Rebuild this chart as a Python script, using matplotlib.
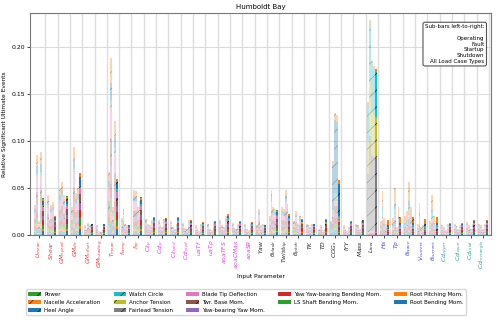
import numpy as np
import matplotlib
matplotlib.use("Agg")
import matplotlib.pyplot as plt

# ---------------- DATA ----------------
params = [r"$U_{mean}$", r"$Shear$", r"$GM_{speed}$", r"$GM_{dir}$", r"$GM_{offset}$",
          r"$GM_{heading}$", r"$T_{mean}$", r"$f_{ramp}$", r"$f_{tip}$",
          r"$Cl_{fp}$", r"$Cd_{fp}$", r"$Cl_{fixed}$", r"$Cd_{fixed}$", r"$uaTf$", r"$uaTp$",
          r"$aoaTFS$", r"$aoaCMax$", r"$aoaSR$",
          r"$Yaw$", r"$\theta_{blade}$", r"$Twist_{tip}$", r"$\theta_{pitch}$", r"$TK$", r"$TD$",
          r"$COG_{x}$", r"$IYY$", r"$Mass$", r"$L_{tow}$",
          r"$Hs$", r"$Tp$", r"$\theta_{wave}$", r"$V_{current}$", r"$\theta_{current}$",
          r"$Cd_{upper}$", r"$Cd_{lower}$", r"$Cd_{axial}$", r"$Cd_{rectangle}$"]
group_sizes = [9, 9, 10, 5, 4]
group_colors = ["#f03c3c", "#e23fe2", "#222222", "#4040f0", "#2fa3a3"]

# total height of each sub-bar
operating = [0.032, 0.042, 0.049, 0.030, 0.010, 0.011, 0.067, 0.018, 0.048,
             0.017, 0.016, 0.015, 0.013, 0.010, 0.012, 0.016, 0.013, 0.012,
             0.010, 0.020, 0.030, 0.015, 0.012, 0.006, 0.015, 0.010, 0.012, 0.141,
             0.015, 0.018, 0.020, 0.012, 0.015, 0.010, 0.012, 0.014, 0.012]
fault = [0.085, 0.017, 0.056, 0.093, 0.005, 0.004, 0.188, 0.028, 0.047,
         0.012, 0.010, 0.008, 0.007, 0.006, 0.006, 0.010, 0.007, 0.006,
         0.028, 0.048, 0.028, 0.025, 0.010, 0.010, 0.079, 0.006, 0.010, 0.229,
         0.047, 0.050, 0.025, 0.034, 0.042, 0.008, 0.009, 0.010, 0.010]
startup = [0.015, 0.032, 0.042, 0.045, 0.013, 0.003, 0.030, 0.012, 0.030,
           0.010, 0.008, 0.006, 0.006, 0.004, 0.005, 0.008, 0.006, 0.005,
           0.010, 0.030, 0.048, 0.012, 0.008, 0.005, 0.130, 0.004, 0.006, 0.185,
           0.018, 0.008, 0.056, 0.008, 0.020, 0.005, 0.006, 0.006, 0.006]
shutdown = [0.088, 0.035, 0.030, 0.050, 0.011, 0.005, 0.121, 0.010, 0.036,
            0.016, 0.017, 0.012, 0.016, 0.012, 0.014, 0.020, 0.012, 0.013,
            0.012, 0.028, 0.033, 0.020, 0.012, 0.006, 0.128, 0.008, 0.015, 0.180,
            0.012, 0.030, 0.030, 0.010, 0.010, 0.012, 0.010, 0.012, 0.012]
all_types = [0.039, 0.020, 0.041, 0.066, 0.012, 0.012, 0.060, 0.010, 0.040,
             0.019, 0.018, 0.019, 0.016, 0.014, 0.015, 0.022, 0.015, 0.014,
             0.011, 0.026, 0.022, 0.017, 0.012, 0.017, 0.058, 0.015, 0.016, 0.177,
             0.016, 0.019, 0.019, 0.017, 0.019, 0.013, 0.013, 0.016, 0.016]
load_cases = ["Operating", "Fault", "Startup", "Shutdown", "All Load Case Types"]

# output channels, bottom of the stack first
channels = ["Root Bending Mom.", "Root Pitching Mom.", "LS Shaft Bending Mom.",
            "Yaw Yaw-bearing Bending Mom.", "Yaw-bearing Yaw Mom.", "Twr. Base Mom.",
            "Blade Tip Deflection", "Fairlead Tension", "Anchor Tension", "Watch Circle",
            "Heel Angle", "Nacelle Acceleration", "Power"]
channel_colors = ["tab:blue", "tab:orange", "tab:green", "tab:red", "tab:purple", "tab:brown",
                  "tab:pink", "tab:gray", "tab:olive", "tab:cyan", "tab:blue", "tab:orange",
                  "tab:green"]
channel_hatch = ["", "", "", "", "", "//", "", "//", "//", "//", "//", "//", "//"]

# estimated share of each channel inside a sub-bar
share_faded = [0.08, 0.05, 0.08, 0.08, 0.10, 0.15, 0.18, 0.01, 0.01, 0.02, 0.10, 0.14, 0.00]
share_full = [0.10, 0.05, 0.12, 0.13, 0.12, 0.14, 0.10, 0.01, 0.01, 0.03, 0.12, 0.06, 0.01]
share_mooring = [0.0, 0.0, 0.0, 0.0, 0.0, 0.01, 0.01, 0.44, 0.25, 0.27, 0.0, 0.02, 0.0]
share_heel = [0.04, 0.01, 0.04, 0.05, 0.04, 0.06, 0.04, 0.02, 0.01, 0.03, 0.60, 0.06, 0.0]
share_wave = [0.05, 0.02, 0.05, 0.05, 0.06, 0.08, 0.08, 0.02, 0.02, 0.12, 0.10, 0.35, 0.0]
special_shares = {24: share_heel, 27: share_mooring, 28: share_wave, 29: share_wave,
                  30: share_wave, 31: share_wave, 32: share_wave}

# ---------------- PLOT ----------------
plt.rcParams["hatch.linewidth"] = 0.4
plt.rcParams["font.size"] = 4.2

fig = plt.figure(figsize=(5, 3.2), dpi=100)
ax = fig.add_axes([0.06, 0.266, 0.922, 0.693])

x = np.arange(len(params))
width = 0.15
totals = [operating, fault, startup, shutdown, all_types]

handles = []
for k, case_totals in enumerate(totals):
    is_all = k == 4
    bottom = np.zeros(len(params))
    for c, name in enumerate(channels):
        vals = []
        for i in range(len(params)):
            if i in special_shares:
                s = special_shares[i][c]
            else:
                s = share_full[c] if is_all else share_faded[c]
            vals.append(case_totals[i] * s)
        vals = np.array(vals)
        bars = ax.bar(x + (k - 2) * width, vals, width, bottom=bottom,
                      color=channel_colors[c], alpha=1.0 if is_all else 0.32,
                      hatch=channel_hatch[c], edgecolor="black", linewidth=0,
                      label=name if is_all else None)
        if is_all:
            handles.append(bars)
        bottom += vals

ax.set_xlim(-0.73, len(params) - 0.35)
ax.set_ylim(0, 0.236)
ax.set_yticks([0, 0.05, 0.10, 0.15, 0.20])
ax.set_xticks(x)
ax.set_xticklabels(params, rotation=90, fontsize=4.3)
ax.set_xticks(x + 0.5, minor=True)
ax.tick_params(axis="x", which="minor", length=0)
ax.tick_params(axis="y", labelsize=4.4, length=2, width=0.5, pad=1.5)
ax.tick_params(axis="x", which="major", length=2, width=0.5, pad=1.5)
ax.grid(True, axis="y", color="#dddddd", linewidth=0.8)
ax.grid(True, axis="x", which="minor", color="#dddddd", linewidth=1.0)
ax.set_axisbelow(True)
for spine in ax.spines.values():
    spine.set_color("#777777")
    spine.set_linewidth(0.8)

colors = []
for size, col in zip(group_sizes, group_colors):
    colors += [col] * size
for lbl, col in zip(ax.get_xticklabels(), colors):
    lbl.set_color(col)

ax.set_title("Humboldt Bay", fontsize=5.0, pad=3)
ax.set_xlabel("Input Parameter", fontsize=4.2, labelpad=3)
ax.set_ylabel("Relative Significant Ultimate Events", fontsize=4.2, labelpad=3)

ax.text(0.986, 0.95, "Sub-bars left-to-right:\n\n" + "\n".join(load_cases),
        transform=ax.transAxes, ha="right", va="top", fontsize=4.0,
        bbox=dict(boxstyle="round,pad=0.35", fc="white", ec="#555555", lw=0.8))

fig.legend(handles[::-1], channels[::-1], loc="upper center", bbox_to_anchor=(0.492, 0.104),
           ncol=5, fontsize=4.0, frameon=True, handlelength=2.3, columnspacing=2.35,
           labelspacing=0.5, borderpad=0.45, handletextpad=0.55)

fig.savefig("out.png", dpi=100)
